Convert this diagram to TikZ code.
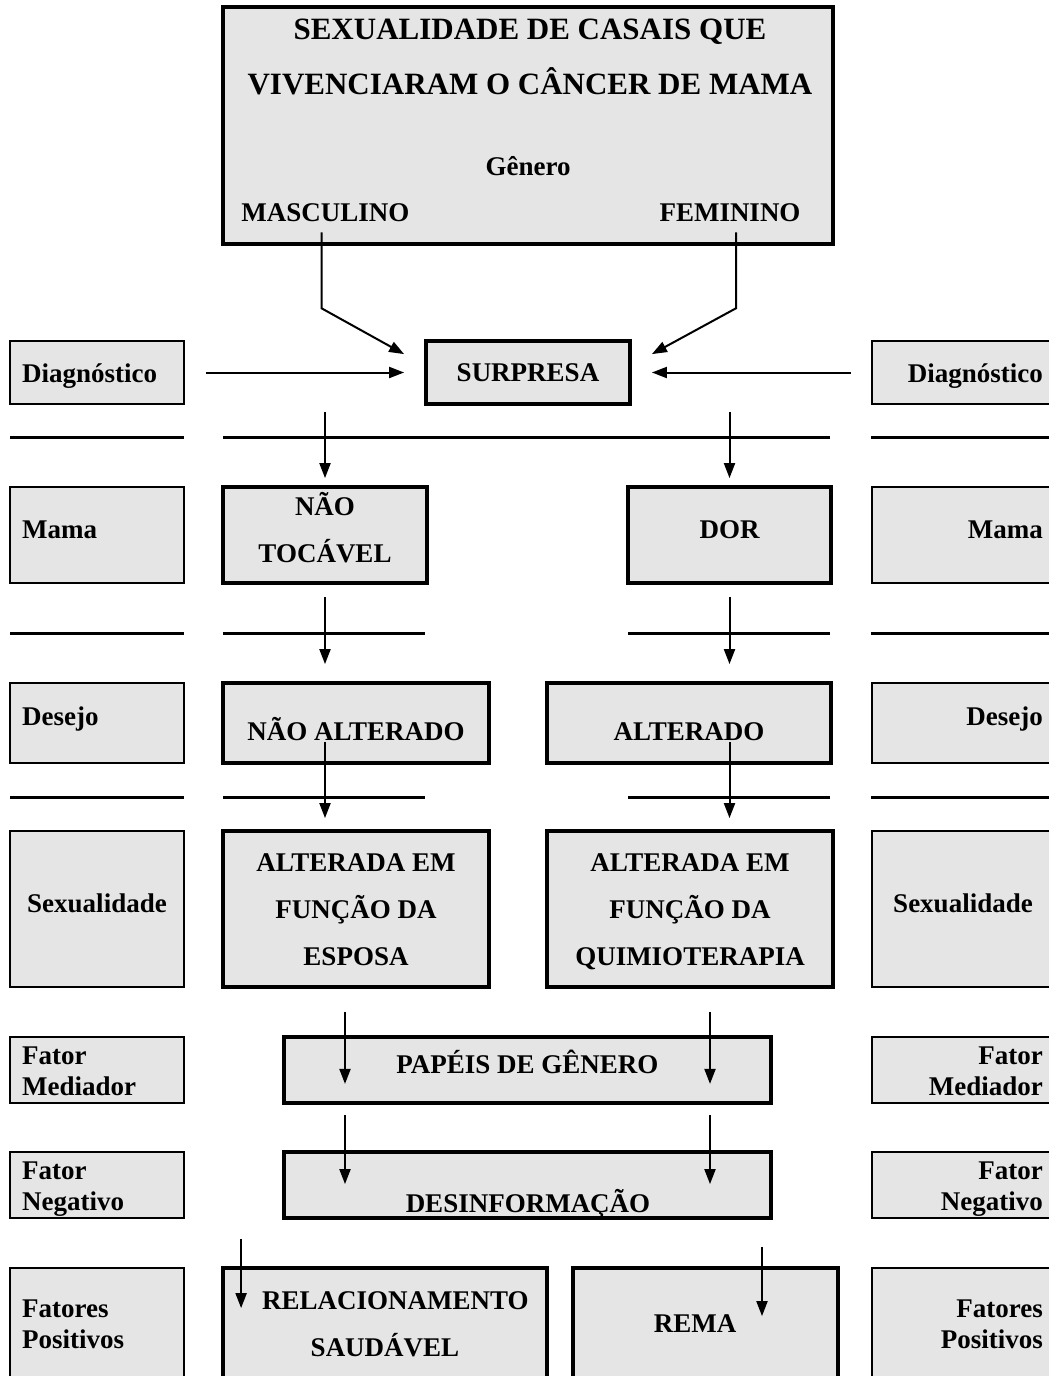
\documentclass[tikz,border=0pt]{standalone}
\usepackage{fontspec}
\setmainfont{Liberation Serif}
\usetikzlibrary{arrows.meta, calc}

\tikzset{
  box/.style={draw, fill=black!10, inner sep=0pt},
  mainbox/.style={box, line width=3.8pt},
  ladobox/.style={box, line width=2.5pt, minimum width=174pt},
  lbl/.style={inner sep=0pt, align=center, font=\bfseries\fontsize{27}{47}\selectfont},
  ladolbl/.style={inner sep=0pt, font=\bfseries\fontsize{27}{31}\selectfont},
  titulo/.style={lbl, font=\bfseries\fontsize{31}{55}\selectfont},
  sep/.style={line width=3pt},
  arr/.style={-{Triangle[length=15pt,width=11pt]}, line width=2pt},
}

\begin{document}
\begin{tikzpicture}[x=1pt, y=-1pt]
\useasboundingbox (0,0) rectangle (1049,1376);
\clip (0,0) rectangle (1049,1376);

% caixa do titulo
\node[mainbox, minimum width=610pt, minimum height=237pt] (topo) at (528,125.5) {};
\node[titulo] (tit) at (530,56.5) {SEXUALIDADE DE CASAIS QUE\\VIVENCIARAM O CÂNCER DE MAMA};
\node[lbl] (genero) at (528,166) {Gênero};
\node[lbl] (masc) at (325.5,213) {MASCULINO};
\node[lbl] (fem) at (730,213) {FEMININO};

% coluna central
\node[mainbox, minimum width=204pt, minimum height=63pt] (surpresa) at (528,372.5) {};
\node[mainbox, minimum width=204pt, minimum height=96pt] (naotoc) at (325,535) {};
\node[mainbox, minimum width=203pt, minimum height=96pt] (dor) at (729.5,535) {};
\node[mainbox, minimum width=266pt, minimum height=80pt] (naoalt) at (356,723) {};
\node[mainbox, minimum width=284pt, minimum height=80pt] (alt) at (689,723) {};
\node[mainbox, minimum width=266pt, minimum height=156pt] (esposa) at (356,909) {};
\node[mainbox, minimum width=286pt, minimum height=156pt] (quimio) at (690,909) {};
\node[mainbox, minimum width=487pt, minimum height=66pt] (papeis) at (527.5,1070) {};
\node[mainbox, minimum width=487pt, minimum height=66pt] (desinf) at (527.5,1185) {};
\node[mainbox, minimum width=324pt, minimum height=112pt] (relac) at (385,1324) {};
\node[mainbox, minimum width=265pt, minimum height=112pt] (rema) at (705.5,1324) {};

\node[lbl] (surpresa-t) at (528,373) {SURPRESA};
\node[lbl] (naotoc-t) at (325,528) {NÃO\\TOCÁVEL};
\node[lbl] (dor-t) at (729.5,530) {DOR};
\node[lbl] (naoalt-t) at (356,729) {NÃO ALTERADO};
\node[lbl] (alt-t) at (689,732) {ALTERADO};
\node[lbl] (esposa-t) at (356,910) {ALTERADA EM\\FUNÇÃO DA\\ESPOSA};
\node[lbl] (quimio-t) at (690,912) {ALTERADA EM\\FUNÇÃO DA\\QUIMIOTERAPIA};
\node[lbl] (papeis-t) at (527.5,1062) {PAPÉIS DE GÊNERO};
\node[lbl] (desinf-t) at (528,1204) {DESINFORMAÇÃO};
\node[lbl] (relac-t) at (385,1324) {\hspace*{21pt}RELACIONAMENTO\\SAUDÁVEL};
\node[lbl] (rema-t) at (695,1324) {REMA};

% caixas laterais
\foreach \nome/\y/\h/\ty/\txt in {diag/372.5/63/376.5/Diagnóstico, mama/535/96/530/Mama,
    desejo/723/80/719/Desejo, med/1070/66/1071/{Fator\\Mediador},
    neg/1185/66/1189/{Fator\\Negativo}, pos/1324/112/1324/{Fatores\\Positivos}} {
  \node[ladobox, minimum height=\h pt] (l-\nome) at (97,\y) {};
  \node[ladobox, minimum width=182pt, minimum height=\h pt] (r-\nome) at (963,\y) {};
  \node[ladolbl, anchor=west, align=left] (l-\nome-t) at (22,\ty) {\txt};
  \node[ladolbl, anchor=east, align=right] (r-\nome-t) at (1043,\ty) {\txt};
}
\node[ladobox, minimum height=156pt] (l-sex) at (97,909) {};
\node[ladobox, minimum width=182pt, minimum height=156pt] (r-sex) at (963,909) {};
\node[ladolbl] (l-sex-t) at (97,903) {Sexualidade};
\node[ladolbl] (r-sex-t) at (963,903) {Sexualidade};

% linhas separadoras
\foreach \y in {437,633,797} {
  \draw[sep] (10,\y) -- (184,\y);
  \draw[sep] (871,\y) -- (1049,\y);
}
\draw[sep] (223,437) -- (830,437);
\foreach \y in {633,797} {
  \draw[sep] (223,\y) -- (425,\y);
  \draw[sep] (628,\y) -- (830,\y);
}

% setas
\draw[arr] ($(masc.south)+(-4,10)$) -- ++(0,76) -- ($(surpresa.north west)+(-20,15)$);
\draw[arr] ($(fem.south)+(6,10)$) -- ++(0,76) -- ($(surpresa.north east)+(20,15)$);
\draw[arr] ($(l-diag.east)+(21,0)$) -- ($(surpresa.west)+(-20,0)$);
\draw[arr] ($(r-diag.west)+(-20,0)$) -- ($(surpresa.east)+(20,0)$);
\draw[arr] ($(surpresa.south -| naotoc.north)+(0,6)$) -- ($(naotoc.north)+(0,-7)$);
\draw[arr] ($(surpresa.south -| dor.north)+(0,6)$) -- ($(dor.north)+(0,-7)$);
\draw[arr] ($(naotoc.south)+(0,12)$) -- ($(naoalt.north -| naotoc)+(0,-17)$);
\draw[arr] ($(dor.south)+(0,12)$) -- ($(alt.north -| dor)+(0,-17)$);
\draw[arr] ($(naoalt.south -| naotoc)+(0,-23)$) -- ($(esposa.north -| naotoc)+(0,-11)$);
\draw[arr] ($(alt.south -| dor)+(0,-23)$) -- ($(quimio.north -| dor)+(0,-11)$);
\draw[arr] ($(esposa.south)+(-11,23)$) -- ($(papeis.south -| esposa)+(-11,-21)$);
\draw[arr] ($(quimio.south)+(20,23)$) -- ($(papeis.south -| quimio)+(20,-21)$);
\draw[arr] ($(papeis.south -| esposa)+(-11,10)$) -- ($(desinf.north -| esposa)+(-11,34)$);
\draw[arr] ($(papeis.south -| quimio)+(20,10)$) -- ($(desinf.north -| quimio)+(20,34)$);
\draw[arr] ($(desinf.south -| relac.west)+(20,19)$) -- ($(relac.north west)+(20,42)$);
\draw[arr] ($(desinf.south -| rema)+(56.5,27)$) -- ($(rema.north)+(56.5,50)$);
\end{tikzpicture}
\end{document}
